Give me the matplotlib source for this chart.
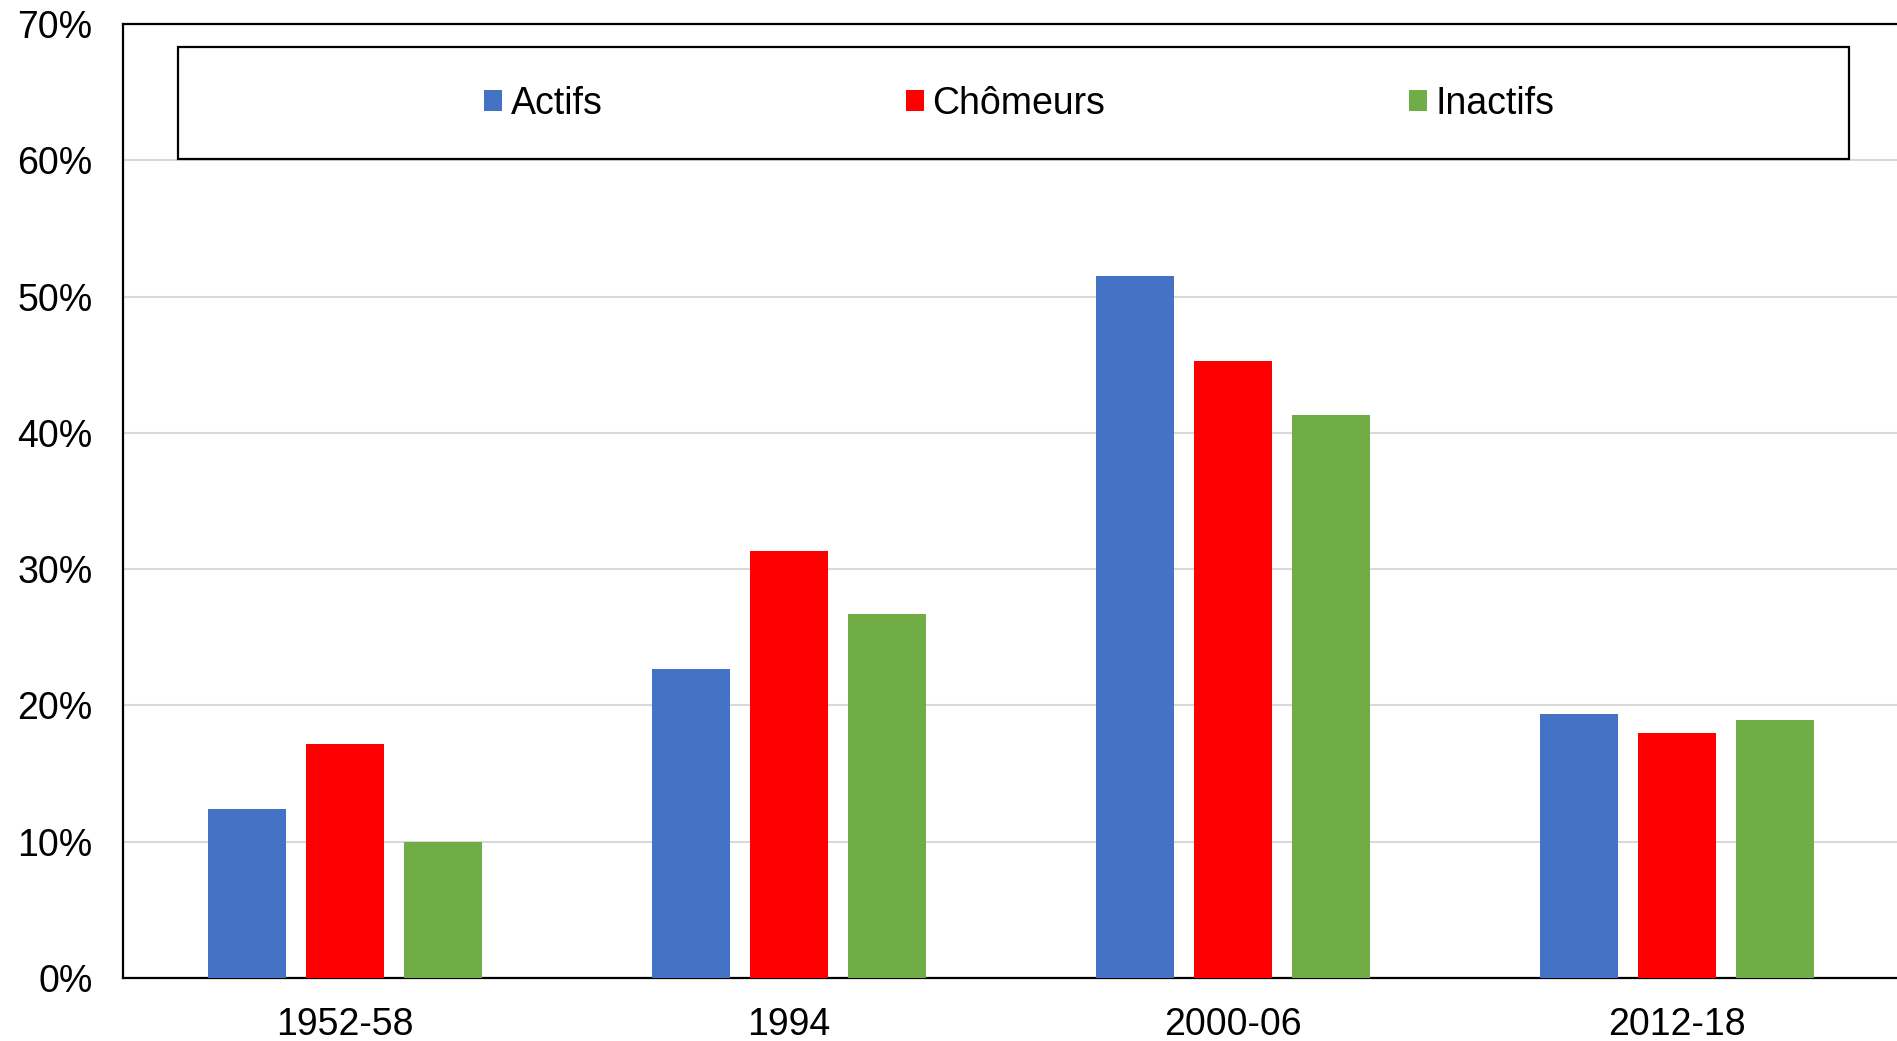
import matplotlib
matplotlib.use("Agg")
import matplotlib.pyplot as plt
from matplotlib.patches import Rectangle
import numpy as np

categories = ["1952-58", "1994", "2000-06", "2012-18"]
series_names = ["Actifs", "Chômeurs", "Inactifs"]
actifs = [12.4, 22.7, 51.5, 19.4]
chomeurs = [17.2, 31.3, 45.3, 18.0]
inactifs = [10.0, 26.7, 41.3, 18.9]
yticks = [0, 10, 20, 30, 40, 50, 60, 70]
colors = ["#4472C4", "#FF0000", "#70AD47"]

plt.rcParams['font.family'] = ['Liberation Sans', 'DejaVu Sans']

W, H = 1897, 1041
fig = plt.figure(figsize=(W / 100, H / 100), dpi=100)
ax_left, ax_right, ax_top, ax_bottom = 123, 1899, 24, 978
ax = fig.add_axes([ax_left / W, 1 - ax_bottom / H, (ax_right - ax_left) / W, (ax_bottom - ax_top) / H])

x = np.arange(len(categories))
width = 0.175
offsets = [-0.22, 0.0, 0.22]
series = [actifs, chomeurs, inactifs]
handles = []
for vals, off, col, name in zip(series, offsets, colors, series_names):
    b = ax.bar(x + off, vals, width, color=col, label=name, zorder=3)
    handles.append(b)

ax.set_xlim(-0.5, 3.5)
ax.set_ylim(0, 70)
ax.set_yticks(yticks)
ax.set_yticklabels([f"{v}%" for v in yticks])
ax.set_xticks(x)
ax.set_xticklabels(categories)
ax.tick_params(axis='both', length=0, labelsize=27)
ax.tick_params(axis='y', pad=22)
ax.tick_params(axis='x', pad=21)
ax.grid(axis='y', color='#d9d9d9', linewidth=1.5, zorder=0)
ax.set_axisbelow(True)
for s in ['left', 'bottom', 'top']:
    ax.spines[s].set_color('black')
    ax.spines[s].set_linewidth(1.6)
ax.spines['right'].set_visible(False)

# legend box
lx0, lx1, ly0, ly1 = 178, 1849, 47, 159
rect = Rectangle((lx0 / W, 1 - ly1 / H), (lx1 - lx0) / W, (ly1 - ly0) / H,
                 transform=fig.transFigure, facecolor='white', edgecolor='black',
                 linewidth=1.6, zorder=5)
fig.patches.append(rect)
leg = fig.legend(handles=handles, labels=series_names, loc='center',
                 bbox_to_anchor=((lx0 + lx1) / 2 / W + 0.003, 1 - ((ly0 + ly1) / 2 + 1) / H),
                 ncol=3, frameon=False, fontsize=27, handlelength=0.48, handleheight=0.48,
                 handletextpad=0.22, columnspacing=8.1)
leg.set_zorder(6)

fig.savefig("out.png", dpi=100, facecolor='white')
